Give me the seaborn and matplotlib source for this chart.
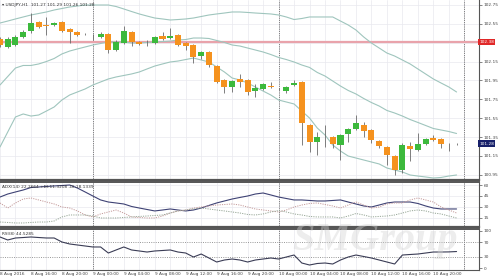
import matplotlib
matplotlib.use("Agg")
import matplotlib.pyplot as plt
import matplotlib.transforms as mtrans
import numpy as np
import pandas as pd
import seaborn as sns

# ---------------- data ----------------
hours = list(range(60))
open_ = [102.390, 102.305, 102.326, 102.411, 102.474, 102.570, 102.538, 102.538, 102.570, 102.496,
         102.464, 102.443, 102.411, 102.411, 102.443, 102.273, 102.347, 102.464, 102.358, 102.347,
         102.347, 102.421, 102.400, 102.432, 102.347, 102.326, 102.209, 102.252, 102.103, 101.955,
         101.881, 101.966, 101.955, 101.838, 101.860, 101.891, 101.860, 101.838, 101.902, 101.934,
         101.478, 101.298, 101.340, 101.351, 101.266, 101.383, 101.436, 101.478, 101.425, 101.308,
         101.245, 101.149, 101.001, 101.255, 101.213, 101.277, 101.340, 101.330, 101.277, 101.277]
high = [102.411, 102.411, 102.432, 102.485, 102.665, 102.580, 102.623, 102.570, 102.580, 102.506,
        102.474, 102.453, 102.443, 102.464, 102.453, 102.379, 102.527, 102.474, 102.368, 102.379,
        102.421, 102.464, 102.506, 102.443, 102.358, 102.337, 102.262, 102.262, 102.114, 101.966,
        101.955, 102.019, 101.966, 101.913, 101.923, 101.934, 101.870, 101.891, 101.955, 101.944,
        101.489, 101.404, 101.478, 101.361, 101.383, 101.446, 101.584, 101.510, 101.436, 101.319,
        101.255, 101.160, 101.287, 101.298, 101.393, 101.340, 101.372, 101.340, 101.287, 101.282]
low = [102.305, 102.294, 102.315, 102.400, 102.453, 102.506, 102.432, 102.527, 102.464, 102.347,
       102.421, 102.432, 102.379, 102.400, 102.241, 102.262, 102.337, 102.315, 102.326, 102.315,
       102.337, 102.379, 102.390, 102.315, 102.273, 102.135, 102.178, 102.093, 101.923, 101.817,
       101.828, 101.881, 101.796, 101.775, 101.849, 101.870, 101.849, 101.817, 101.891, 101.266,
       101.192, 101.160, 101.245, 101.234, 101.107, 101.298, 101.425, 101.351, 101.287, 101.234,
       101.054, 100.948, 100.969, 101.096, 101.202, 101.266, 101.308, 101.234, 101.202, 101.271]
close = [102.326, 102.390, 102.411, 102.464, 102.559, 102.517, 102.527, 102.559, 102.474, 102.464,
         102.432, 102.437, 102.405, 102.443, 102.273, 102.358, 102.474, 102.358, 102.337, 102.342,
         102.411, 102.390, 102.421, 102.326, 102.315, 102.199, 102.252, 102.114, 101.934, 101.881,
         101.944, 101.934, 101.828, 101.870, 101.913, 101.881, 101.854, 101.881, 101.923, 101.499,
         101.298, 101.351, 101.335, 101.277, 101.372, 101.436, 101.499, 101.414, 101.319, 101.255,
         101.160, 101.001, 101.266, 101.224, 101.277, 101.330, 101.319, 101.277, 101.271, 101.277]

bb_upper = [102.559, 102.580, 102.602, 102.623, 102.644, 102.660, 102.676, 102.697, 102.713, 102.729,
            102.739, 102.750, 102.750, 102.750, 102.750, 102.734, 102.708, 102.681, 102.655, 102.633,
            102.612, 102.602, 102.591, 102.596, 102.602, 102.612, 102.628, 102.644, 102.655, 102.665,
            102.676, 102.676, 102.671, 102.665, 102.660, 102.655, 102.644, 102.623, 102.596, 102.607,
            102.623, 102.623, 102.623, 102.623, 102.580, 102.538, 102.485, 102.411, 102.347, 102.294,
            102.241, 102.209, 102.167, 102.125, 102.072, 102.019, 101.966, 101.923, 101.881, 101.828]
bb_mid = [101.902, 101.992, 102.082, 102.109, 102.109, 102.125, 102.151, 102.183, 102.231, 102.262,
          102.284, 102.305, 102.326, 102.342, 102.358, 102.358, 102.358, 102.347, 102.347, 102.353,
          102.358, 102.363, 102.368, 102.379, 102.384, 102.400, 102.400, 102.395, 102.374, 102.353,
          102.326, 102.315, 102.294, 102.273, 102.252, 102.225, 102.194, 102.172, 102.146, 102.114,
          102.088, 102.035, 101.997, 101.944, 101.891, 101.844, 101.807, 101.759, 101.716, 101.679,
          101.632, 101.605, 101.573, 101.536, 101.505, 101.473, 101.441, 101.425, 101.409, 101.388]
bb_lower = [101.245, 101.404, 101.563, 101.595, 101.573, 101.584, 101.626, 101.669, 101.743, 101.796,
            101.828, 101.860, 101.902, 101.934, 101.966, 101.987, 102.003, 102.019, 102.040, 102.072,
            102.103, 102.125, 102.146, 102.156, 102.172, 102.188, 102.167, 102.146, 102.093, 102.040,
            101.976, 101.955, 101.923, 101.881, 101.838, 101.796, 101.743, 101.722, 101.701, 101.626,
            101.552, 101.446, 101.372, 101.266, 101.202, 101.149, 101.128, 101.107, 101.086, 101.065,
            101.022, 101.001, 100.980, 100.948, 100.937, 100.927, 100.916, 100.922, 100.937, 100.948]

adx = [43.6, 47.7, 50.5, 53.2, 56.6, 57.3, 58.0, 58.7, 59.3, 60.0,
       55.9, 50.5, 45.0, 39.6, 36.8, 35.5, 34.1, 30.7, 28.6, 26.6,
       24.6, 25.9, 27.3, 25.9, 24.6, 25.9, 28.6, 32.1, 35.5, 38.2,
       40.9, 43.0, 45.0, 47.7, 49.1, 46.4, 43.6, 41.6, 39.6, 39.6,
       38.9, 38.2, 38.2, 38.9, 39.6, 36.8, 34.1, 31.4, 30.0, 32.7,
       35.5, 36.8, 36.8, 36.8, 34.8, 31.4, 28.6, 27.3, 27.3, 27.3]
minus_di = [35.5, 28.6, 35.5, 40.9, 42.3, 39.6, 36.8, 34.1, 30.0, 28.6,
            24.6, 19.1, 16.4, 20.5, 23.2, 25.9, 21.8, 16.4, 15.7, 15.0,
            15.0, 17.7, 21.8, 24.6, 25.9, 28.6, 30.0, 31.4, 32.7, 33.4,
            34.1, 32.7, 30.0, 27.3, 25.9, 24.6, 23.2, 25.9, 30.0, 32.7,
            34.8, 35.5, 33.4, 31.4, 28.6, 32.7, 36.8, 32.7, 28.6, 30.0,
            34.1, 35.5, 35.5, 39.6, 42.3, 39.6, 36.8, 30.0, 25.9, 21.8]
plus_di = [9.5, 8.9, 8.2, 8.2, 8.9, 9.5, 9.5, 10.9, 16.4, 19.1,
           19.1, 19.1, 17.7, 15.0, 15.0, 15.0, 15.7, 16.4, 17.1, 17.7,
           18.4, 19.1, 21.8, 24.6, 25.9, 27.3, 28.6, 27.3, 25.9, 24.6,
           23.2, 21.8, 19.8, 19.1, 20.5, 23.2, 25.2, 23.2, 20.5, 19.1,
           17.1, 16.4, 16.4, 16.4, 15.0, 17.7, 21.1, 19.1, 16.4, 17.1,
           17.7, 19.1, 21.8, 24.6, 25.9, 24.6, 21.8, 20.5, 17.7, 15.0]
rsi = [83.8, 75.7, 81.1, 82.4, 83.8, 82.4, 81.1, 81.1, 70.3, 64.9,
       62.2, 59.5, 56.8, 56.8, 40.5, 48.7, 56.8, 48.7, 46.0, 43.2,
       46.0, 47.3, 48.7, 43.2, 40.5, 29.7, 37.8, 27.0, 16.2, 21.6,
       24.3, 21.6, 16.2, 21.6, 24.3, 27.0, 24.3, 29.7, 35.1, 13.5,
       8.1, 12.2, 13.5, 10.8, 21.6, 29.7, 35.1, 31.1, 27.0, 21.6,
       16.2, 10.8, 35.1, 36.5, 37.8, 40.5, 43.2, 43.2, 43.5, 44.5]

price_ticks = [100.95, 101.15, 101.35, 101.55, 101.75, 101.95, 102.15, 102.35, 102.55, 102.75]
adx_ticks = [15, 30, 45, 60]
rsi_ticks = [0, 30, 70, 100]
rsi_levels = [30, 70]
tick_hours = [0, 4, 8, 12, 16, 20, 24, 28, 32, 36, 40, 44, 48, 52, 56]
tick_labels = ["8 Aug 2016", "8 Aug 16:00", "8 Aug 20:00", "9 Aug 00:00", "9 Aug 04:00",
               "9 Aug 08:00", "9 Aug 12:00", "9 Aug 16:00", "9 Aug 20:00", "10 Aug 00:00",
               "10 Aug 04:00", "10 Aug 08:00", "10 Aug 12:00", "10 Aug 16:00", "10 Aug 20:00"]
day_breaks = [12, 36, 60]
level_price = 102.36
level_label = "102.38"
last_price = 101.28
last_label = "101.28"
title = "\u25be USDJPY,H1  101.27 101.29 101.26 101.28"
adx_title = "ADX(14) 22.2664 +DI:11.3208 -DI:18.1339"
rsi_title = "RSI(8) 44.5285"

# ---------------- style ----------------
sns.set_theme(style="white")
plt.rcParams["font.family"] = ["DejaVu Sans"]

W, H = 500, 280
fig = plt.figure(figsize=(5, 2.8), dpi=100)
fig.patch.set_facecolor("white")

def frac_box(top, bottom, right=479):
    return [0, 1 - bottom / H, right / W, (bottom - top) / H]

ax = fig.add_axes(frac_box(0, 180))
ax2 = fig.add_axes(frac_box(182, 227))
ax3 = fig.add_axes(frac_box(229, 270))

xlim = (0.097, 61.9)
FS = 3.1
AX_COL = "#555555"
GRID_COL = "#e9e9ef"

for a in (ax, ax2, ax3):
    a.set_facecolor("white")
    a.set_xlim(*xlim)
    a.set_xticks(np.arange(0, 62, 2))
    a.tick_params(axis="x", which="both", length=0, labelbottom=False)
    a.grid(True, color=GRID_COL, lw=0.5)
    a.set_axisbelow(True)
    a.spines["left"].set_visible(False)
    for s in ("right", "top", "bottom"):
        a.spines[s].set_color(AX_COL)
    a.spines["right"].set_linewidth(0.8)
    a.yaxis.tick_right()
    a.tick_params(axis="y", length=2, width=0.5, color=AX_COL, labelsize=FS,
                  labelcolor="#444444", pad=1.5)
    for bd in day_breaks:
        a.axvline(bd, color="#555555", lw=0.6, ls=(0, (1, 1.2)), zorder=1)

ax.spines["top"].set_visible(False)
ax.spines["bottom"].set_linewidth(1.6)
ax2.spines["top"].set_linewidth(1.4)
ax2.spines["bottom"].set_linewidth(1.6)
ax3.spines["top"].set_linewidth(1.4)
ax3.spines["bottom"].set_linewidth(0.8)

# ---------------- main price panel ----------------
ax.set_ylim(100.895, 102.803)
ax.set_yticks(price_ticks)
# the 102.35 tick label is hidden under the level box in the reference
ax.set_yticklabels(["" if abs(t - level_price) < 0.05 else f"{t:.2f}" for t in price_ticks])

df = pd.DataFrame({"h": hours, "o": open_, "hi": high, "lo": low, "c": close,
                   "up": bb_upper, "mid": bb_mid, "dn": bb_lower})

band_col = "#9fc5bd"
for col in ("up", "mid", "dn"):
    sns.lineplot(data=df, x="h", y=col, ax=ax, color=band_col, lw=0.8, zorder=2, legend=False)

ax.axhline(level_price, color="#e9a3ab", lw=1.6, zorder=1.5)

body_lo = np.minimum(df["o"], df["c"])
body_h = np.abs(df["c"] - df["o"])
doji = body_h < 0.008
colors = np.where(df["c"] > df["o"], "#3cb93c", "#f5921e")
colors = np.where(doji, "#555555", colors)
ax.vlines(df["h"], df["lo"], df["hi"], color="#6a6a6a", lw=0.6, zorder=3)
ax.bar(df["h"], np.where(doji, 0.009, body_h), bottom=np.where(doji, df["o"] - 0.0045, body_lo),
       width=0.78, color=colors, lw=0, zorder=4)
ax.set_xlabel("")
ax.set_ylabel("")

ytr = ax.get_yaxis_transform()
ax.text(1.0, level_price, level_label, transform=ytr, ha="left", va="center", fontsize=FS,
        color="white", bbox=dict(facecolor="#e02828", edgecolor="none", pad=0.9), zorder=10,
        clip_on=False)
ax.text(1.0, last_price, last_label, transform=ytr, ha="left", va="center", fontsize=FS,
        color="white", bbox=dict(facecolor="#17206a", edgecolor="none", pad=0.9), zorder=10,
        clip_on=False)
ax.text(0.004, 0.985, title, transform=ax.transAxes, ha="left", va="top", fontsize=FS,
        color="#333333", zorder=10)

# ---------------- ADX panel ----------------
df2 = pd.DataFrame({"h": hours, "adx": adx, "mdi": minus_di, "pdi": plus_di})
ax2.set_ylim(2.7, 64.1)
ax2.set_yticks(adx_ticks)
ax2.set_yticklabels([str(t) for t in adx_ticks])
sns.lineplot(data=df2, x="h", y="adx", ax=ax2, color="#3e4274", lw=0.8, legend=False, zorder=3)
sns.lineplot(data=df2, x="h", y="mdi", ax=ax2, color="#c49a9a", lw=0.7, legend=False, zorder=3)
sns.lineplot(data=df2, x="h", y="pdi", ax=ax2, color="#95a595", lw=0.7, legend=False, zorder=3)
ax2.lines[-1].set_linestyle((0, (1.2, 1.2)))
ax2.lines[-2].set_linestyle((0, (1.2, 1.2)))
ax2.set_xlabel("")
ax2.set_ylabel("")
ax2.text(0.004, 0.93, adx_title, transform=ax2.transAxes, ha="left", va="top", fontsize=FS,
         color="#333333", zorder=10)

# ---------------- RSI panel ----------------
df3 = pd.DataFrame({"h": hours, "rsi": rsi})
ax3.set_ylim(-5.4, 105.4)
ax3.set_yticks(rsi_ticks)
ax3.set_yticklabels([str(t) for t in rsi_ticks])
ax3.grid(False, axis="y")
for lv in rsi_levels:
    ax3.axhline(lv, color="#8a8a8a", lw=0.6, ls=(0, (1.2, 1.5)), zorder=1)
sns.lineplot(data=df3, x="h", y="rsi", ax=ax3, color="#3a3c55", lw=0.8, legend=False, zorder=3)
ax3.set_xlabel("")
ax3.set_ylabel("")
ax3.text(0.004, 0.93, rsi_title, transform=ax3.transAxes, ha="left", va="top", fontsize=FS,
         color="#333333", zorder=10)

xtr = mtrans.blended_transform_factory(ax3.transData, ax3.transAxes)
for th, lab in zip(tick_hours, tick_labels):
    ax3.text(th, -0.06, lab, transform=xtr, ha="left", va="top", fontsize=FS,
             color="#444444", clip_on=False)

# watermark
fig.text(0.75, 0.14, "SMGroup", ha="center", va="center", fontsize=29, style="italic",
         fontweight="bold", color="#d2d2d2", alpha=0.4, family="Liberation Serif")

fig.savefig("out.png", dpi=100, facecolor="white")
